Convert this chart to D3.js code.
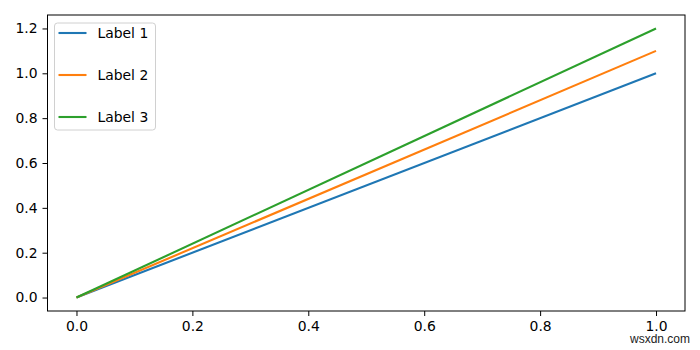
<!DOCTYPE html>
<html>
  <head>
    <script src="https://d3js.org/d3.v7.min.js"></script>
    <style>
      body { margin: 0; background: #fff; }
      text { font-family: "DejaVu Sans", sans-serif; }
    </style>
  </head>
  <body>
    <svg></svg>
    <script>
      // chart data
      const xValues = [0, 1];
      const seriesNames = ['Label 1', 'Label 2', 'Label 3'];
      const seriesValues = [[0, 1.0], [0, 1.1], [0, 1.2]];
      const xTicks = [0, 0.2, 0.4, 0.6, 0.8, 1.0];
      const yTicks = [0, 0.2, 0.4, 0.6, 0.8, 1.0, 1.2];
      const colors = ['#1f77b4', '#ff7f0e', '#2ca02c'];

      const width = 700, height = 350;
      const svg = d3.select('svg')
        .attr('width', width)
        .attr('height', height);

      const margin = { top: 15, right: 15, bottom: 39, left: 47.5 };
      const innerWidth = width - margin.left - margin.right;
      const innerHeight = height - margin.top - margin.bottom;

      const xScale = d3.scaleLinear()
        .domain([-0.05, 1.05])
        .range([0, innerWidth]);
      const yScale = d3.scaleLinear()
        .domain([-0.06, 1.26])
        .range([innerHeight, 0]);

      const g = svg.append('g')
        .attr('transform', `translate(${margin.left},${margin.top})`);

      const xAxis = d3.axisBottom(xScale)
        .tickValues(xTicks)
        .tickFormat(d3.format('.1f'))
        .tickSize(5)
        .tickPadding(5);
      const yAxis = d3.axisLeft(yScale)
        .tickValues(yTicks)
        .tickFormat(d3.format('.1f'))
        .tickSize(5)
        .tickPadding(5);

      const xAxisG = g.append('g')
        .attr('transform', `translate(0,${innerHeight})`)
        .call(xAxis);
      const yAxisG = g.append('g').call(yAxis);

      [xAxisG, yAxisG].forEach(a => {
        a.select('.domain').remove();
        a.selectAll('line').attr('stroke', '#000').attr('stroke-width', 1);
        a.selectAll('text')
          .attr('fill', '#000')
          .style('font-size', '13.9px')
          .style('font-family', '"DejaVu Sans", sans-serif');
      });

      const line = d3.line()
        .x((d, i) => xScale(xValues[i]))
        .y(d => yScale(d));

      g.selectAll('.series').data(seriesValues)
        .enter().append('path')
          .attr('class', 'series')
          .attr('d', line)
          .attr('fill', 'none')
          .attr('stroke', (d, i) => colors[i])
          .attr('stroke-width', 2.1);

      // frame
      g.append('rect')
        .attr('width', innerWidth)
        .attr('height', innerHeight)
        .attr('fill', 'none')
        .attr('stroke', '#000')
        .attr('stroke-width', 1);

      // legend
      const legend = g.append('g')
        .attr('transform', 'translate(7,8)');
      legend.append('rect')
        .attr('width', 101)
        .attr('height', 107)
        .attr('rx', 3)
        .attr('fill', '#fff')
        .attr('fill-opacity', 0.8)
        .attr('stroke', '#d0d0d0')
        .attr('stroke-width', 1);

      const item = legend.selectAll('.item').data(seriesNames)
        .enter().append('g')
          .attr('class', 'item')
          .attr('transform', (d, i) => `translate(0,${10 + i * 42})`);
      item.append('line')
        .attr('x1', 4).attr('x2', 32)
        .attr('stroke', (d, i) => colors[i])
        .attr('stroke-width', 2.1);
      item.append('text')
        .attr('x', 43)
        .attr('dy', '0.35em')
        .style('font-size', '13.9px')
        .text(d => d);

      svg.append('text')
        .attr('x', 690)
        .attr('y', 343)
        .attr('text-anchor', 'end')
        .style('font-size', '12px')
        .style('font-family', 'Arial, "Liberation Sans", sans-serif')
        .attr('fill', '#222')
        .text('wsxdn.com');
    </script>
  </body>
</html>
